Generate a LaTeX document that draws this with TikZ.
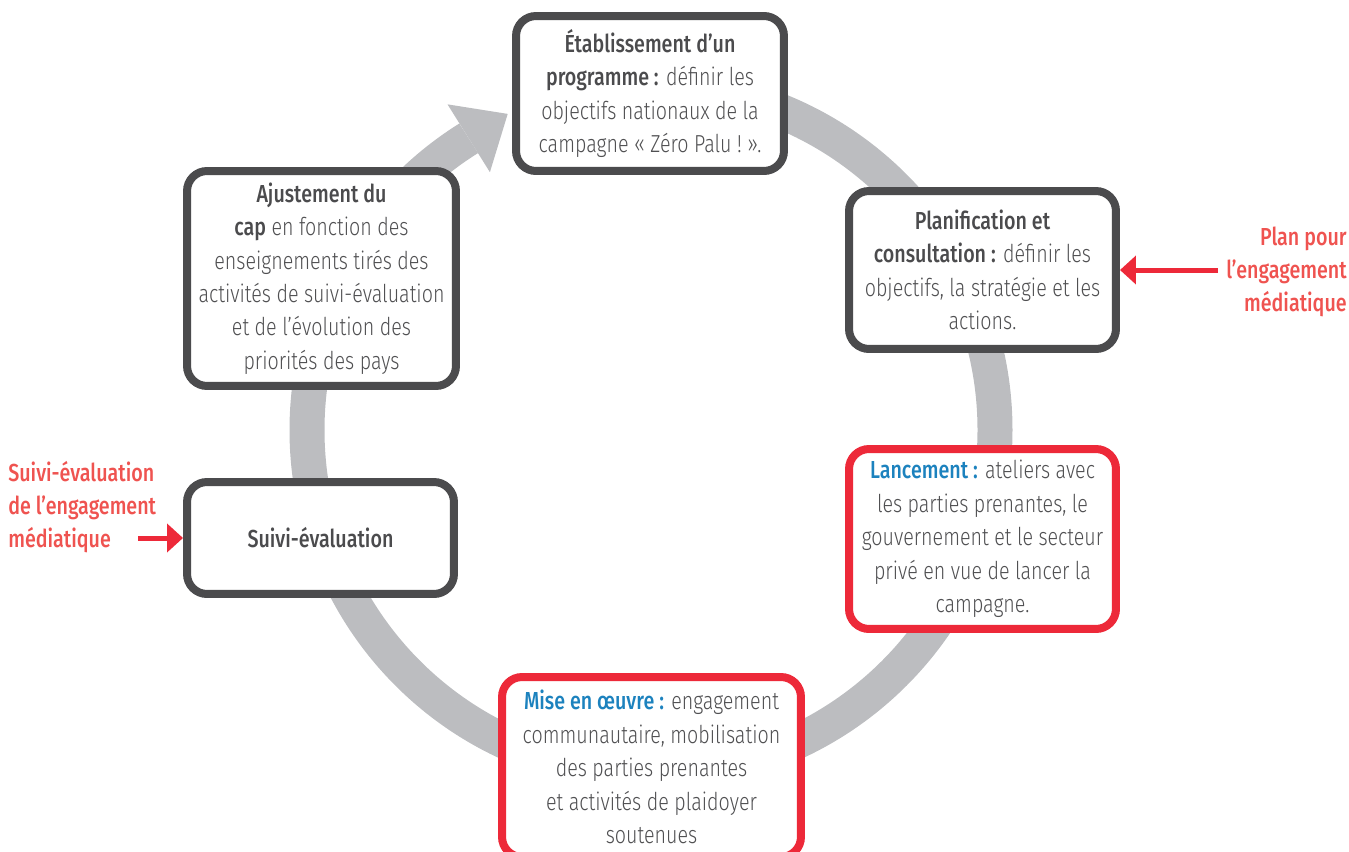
\documentclass[tikz,border=0pt]{standalone}
\usepackage{fontspec}
\setmainfont{Fira Sans}[FakeStretch=0.8, UprightFont=* Light, BoldFont=* Medium]
\usetikzlibrary{arrows.meta,calc}
\definecolor{boxgray}{RGB}{75,75,77}
\definecolor{txtgray}{RGB}{80,80,82}
\definecolor{ringgray}{RGB}{188,189,192}
\definecolor{boxred}{RGB}{237,41,57}
\definecolor{lblred}{RGB}{239,83,80}
\definecolor{keyblue}{RGB}{28,130,190}
\newcommand{\keyterm}[1]{{\bfseries\color{boxgray}#1}}
\newcommand{\bluekey}[1]{{\bfseries\color{keyblue}#1}}
\tikzset{% common styles of the cycle elements
  stage/.style    = {shape=rectangle, rounded corners=0.4cm,
                     draw=boxgray, line width=0.16cm, fill=white,
                     align=center, inner sep=0pt, text=txtgray,
                     font=\fontsize{14}{19}\selectfont},
  keystage/.style = {stage, draw=boxred},
  medialbl/.style = {inner sep=0pt, text=lblred,
                     font=\fontsize{14}{19}\selectfont\bfseries},
  medarrow/.style = {draw=boxred, line width=0.1cm,
                     -{Triangle[length=0.32cm, width=0.56cm]}},
  ring/.style     = {draw=ringgray, line width=0.7cm},
}
\begin{document}
\begin{tikzpicture}[% one unit = one pixel of the layout
            x = 0.02cm, y = -0.02cm
        ]
        \useasboundingbox (0,0) rectangle (1349,852);
        % the cycle ring, drawn first so that the boxes cover it
        \coordinate (hub) at (651,430);
        \draw [ring] (651,86) arc [start angle=-90, end angle=238, radius=344];
        \fill [ringgray] ($(hub)+(238:304)$) -- ($(hub)+(238:384)$)
              -- ($(hub)+(238:344)+(328:46)$) -- cycle;
        % stages of the cycle
        \node [stage, minimum width=5.36cm, minimum height=3.1cm] (prog) at (650,93.5)
              {\keyterm{Établissement d’un}\\
               \keyterm{programme :} définir les\\
               objectifs nationaux de la\\
               campagne «~Zéro Palu~!~».};
        \node [stage, minimum width=5.34cm, minimum height=3.16cm] (plan) at (982.5,270)
              {\keyterm{Planification et}\\
               \keyterm{consultation :} définir les\\
               objectifs, la stratégie et les\\
               actions.};
        \node [keystage, minimum width=5.34cm, minimum height=3.6cm] (launch) at (982.5,539)
              {\bluekey{Lancement :} ateliers avec\\
               les parties prenantes, le\\
               gouvernement et le secteur\\
               privé en vue de lancer la\\
               campagne.};
        \node [keystage, minimum width=5.98cm, minimum height=3.6cm] (impl) at (651.5,767)
              {\bluekey{Mise en œuvre :} engagement\\
               communautaire, mobilisation\\
               des parties prenantes\\
               et activités de plaidoyer\\
               soutenues};
        \node [stage, minimum width=5.34cm, minimum height=2.24cm] (monitor) at (320.5,538)
              {\keyterm{Suivi-évaluation}};
        \node [stage, minimum width=5.38cm, minimum height=4.3cm] (adjust) at (321.5,278.5)
              {\keyterm{Ajustement du}\\
               \keyterm{cap} en fonction des\\
               enseignements tirés des\\
               activités de suivi-évaluation\\
               et de l’évolution des\\
               priorités des pays};
        % media engagement inputs
        \node [medialbl, align=right, anchor=east] (planlbl) at (1347,272)
              {Plan pour\\l’engagement\\médiatique};
        \node [medialbl, align=left, anchor=west] (evallbl) at (8,507)
              {Suivi-évaluation\\de l’engagement\\médiatique};
        \coordinate (planin) at (1218,270);
        \coordinate (evalin) at (138,538);
        \draw [medarrow] (planin) -- (plan.east);
        \draw [medarrow] (evalin) -- (monitor.west);
    \end{tikzpicture}
\end{document}
